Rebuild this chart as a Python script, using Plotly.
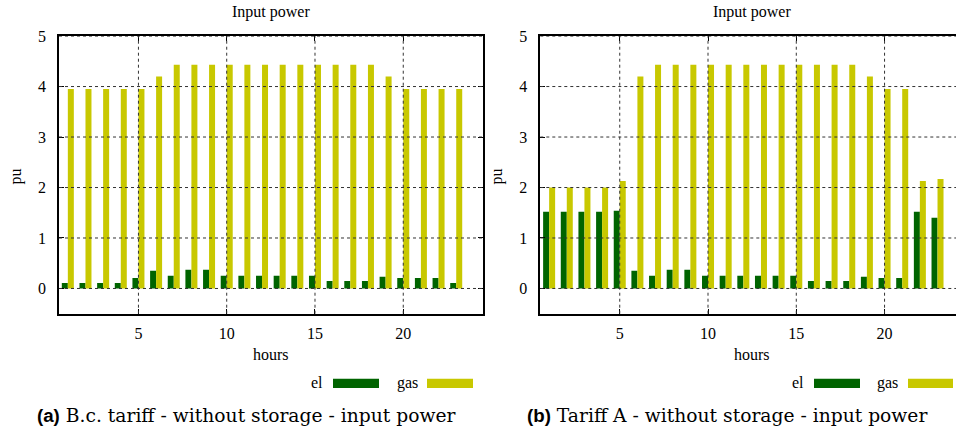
import plotly.graph_objects as go
from plotly.subplots import make_subplots

# Hourly input power (pu) for the two tariff cases, hours 1..23
hours = list(range(1, 24))

bc_el = [0.11, 0.11, 0.11, 0.11, 0.21, 0.35, 0.25, 0.37, 0.37, 0.25, 0.25, 0.25,
         0.25, 0.25, 0.25, 0.15, 0.15, 0.15, 0.23, 0.21, 0.21, 0.21, 0.11]
bc_gas = [3.95, 3.95, 3.95, 3.95, 3.95, 4.2, 4.43, 4.43, 4.43, 4.43, 4.43, 4.43,
          4.43, 4.43, 4.43, 4.43, 4.43, 4.43, 4.2, 3.95, 3.95, 3.95, 3.95]

ta_el = [1.52, 1.52, 1.52, 1.52, 1.54, 0.35, 0.25, 0.37, 0.37, 0.25, 0.25, 0.25,
         0.25, 0.25, 0.25, 0.15, 0.15, 0.15, 0.23, 0.21, 0.21, 1.52, 1.40]
ta_gas = [2.0, 2.0, 2.0, 2.0, 2.13, 4.2, 4.43, 4.43, 4.43, 4.43, 4.43, 4.43,
          4.43, 4.43, 4.43, 4.43, 4.43, 4.43, 4.2, 3.95, 3.95, 2.13, 2.17]

x_ticks = [5, 10, 15, 20]
y_ticks = [0, 1, 2, 3, 4, 5]

EL = "#006400"
GAS = "#c8c800"
W, H = 956, 434
SERIF = "Liberation Serif"
GRID = "#333333"

# vertical placement helper: pixel row -> paper fraction (page starts 9px down, 425px tall)
Y_OFF, Y_SPAN = 9.0, 425.0


def px(x):
    return x / W


def py(y):
    return 1 - (y - Y_OFF) / Y_SPAN


fig = make_subplots(rows=1, cols=2)

for col, (el, gas) in enumerate([(bc_el, bc_gas), (ta_el, ta_gas)], start=1):
    fig.add_trace(go.Bar(x=hours, y=el, name="el", marker_color=EL,
                         marker_line_width=0, showlegend=False), row=1, col=col)
    fig.add_trace(go.Bar(x=hours, y=gas, name="gas", marker_color=GAS,
                         marker_line_width=0, showlegend=False), row=1, col=col)

# plot-area geometry in pixels
L1, R1 = 59.0, 482.7
L2 = 540.3
TOP, BOT = 37.0, 314.0
px_per_hour = (R1 - L1) / 24.0
right_end = 0.5 + (W - L2) / px_per_hour
Y_RANGE = [-0.5, 5]

ydom = [py(BOT), py(TOP)]

axis_common = dict(
    showline=True, linecolor="black", linewidth=1.5,
    ticks="inside", ticklen=5, tickcolor="black",
    showgrid=False, zeroline=False, layer="above traces",
    tickfont=dict(family=SERIF, size=16, color="black"),
)

fig.update_layout(
    xaxis=dict(domain=[L1 / W, R1 / W], range=[0.5, 24.5], tickvals=x_ticks,
               mirror="ticks", ticklabelstandoff=4, **axis_common),
    xaxis2=dict(domain=[L2 / W, 1.0], range=[0.5, right_end], tickvals=x_ticks,
                mirror="ticks", ticklabelstandoff=4, **axis_common),
    yaxis=dict(domain=ydom, range=Y_RANGE, tickvals=y_ticks,
               mirror="ticks", ticklabelstandoff=8, **axis_common),
    yaxis2=dict(domain=ydom, range=Y_RANGE, tickvals=y_ticks,
                mirror=False, ticklabelstandoff=8, **axis_common),
    barmode="group", bargap=0.32, bargroupgap=0,
    width=W, height=H, margin=dict(l=0, r=0, t=0, b=0),
    plot_bgcolor="white", paper_bgcolor="white",
    showlegend=False,
)

annotations = []
shapes = []

# dotted grid drawn over the bars
for xr, yr in [("x", "y"), ("x2", "y2")]:
    for t in x_ticks:
        shapes.append(dict(type="line", xref=xr, yref=yr + " domain", x0=t, x1=t,
                           y0=0, y1=1, layer="above",
                           line=dict(color=GRID, width=1, dash="dot")))
    for t in y_ticks:
        shapes.append(dict(type="line", xref=xr + " domain", yref=yr, x0=0, x1=1,
                           y0=t, y1=t, layer="above",
                           line=dict(color=GRID, width=1, dash="dot")))


def label(x, y, text, size=16, family=SERIF, angle=0):
    annotations.append(dict(x=px(x), y=py(y), xref="paper", yref="paper",
                            xanchor="center", yanchor="middle", text=text,
                            textangle=angle, showarrow=False,
                            font=dict(family=family, size=size, color="black")))


panels = [
    dict(cx=(L1 + R1) / 2, ylab_x=16, leg=(317, 333, 379, 407, 427, 473),
         cap_x=246, cap="B.c. tariff - without storage - input power", tag="(a)"),
    dict(cx=(L2 + L2 + 24 * px_per_hour) / 2, ylab_x=497, leg=(798, 814, 860, 887, 908, 953),
         cap_x=727, cap="Tariff A - without storage - input power", tag="(b)"),
]
for p in panels:
    label(p["cx"], 13, "Input power")
    label(p["cx"], 355, "hours")
    label(p["ylab_x"], 177, "pu", angle=-90)
    el_x, g1a, g1b, gas_x, g2a, g2b = p["leg"]
    label(el_x, 383, "el")
    label(gas_x, 383, "gas")
    shapes.append(dict(type="rect", xref="paper", yref="paper",
                       x0=px(g1a), x1=px(g1b), y0=py(388), y1=py(379),
                       fillcolor=EL, line_width=0))
    shapes.append(dict(type="rect", xref="paper", yref="paper",
                       x0=px(g2a), x1=px(g2b), y0=py(388), y1=py(379),
                       fillcolor=GAS, line_width=0))
    cap = ('<span style="font-family:Liberation Sans"><b>' + p["tag"] + "</b></span> "
           + p["cap"])
    label(p["cap_x"], 416, cap, size=18.7, family="DejaVu Serif")

fig.update_layout(annotations=annotations, shapes=shapes)

fig.write_html("out.html")
